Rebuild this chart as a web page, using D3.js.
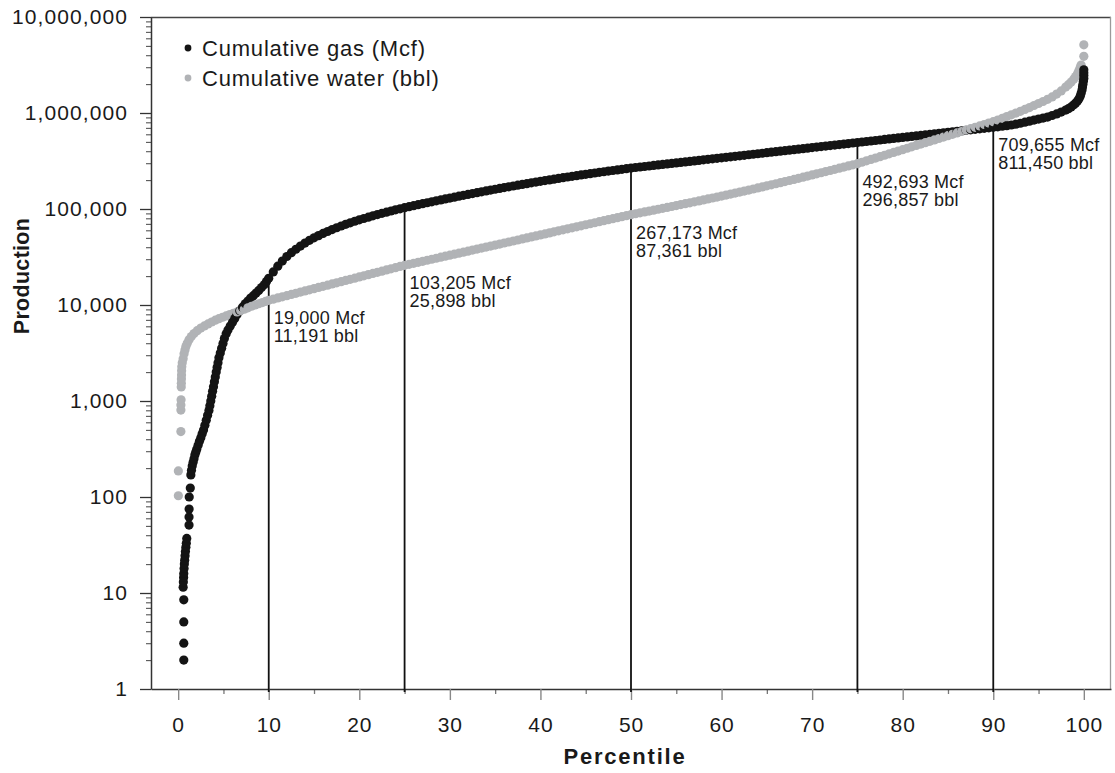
<!DOCTYPE html>
<html>
<head>
<meta charset="utf-8">
<script src="https://cdn.jsdelivr.net/npm/d3@7"></script>
<style>
  body { margin: 0; background: #fff; }
  svg { display: block; }
  text { font-family: "Liberation Sans", Arial, Helvetica, sans-serif; fill: #1a1a1a; }
</style>
</head>
<body>
<svg id="chart" width="1115" height="773"></svg>
<script>
// Cumulative gas (Mcf) per well, as [percentile, production]
const gasPoints = [
  [0.62,2],[0.62,3],[0.62,5],[0.62,8.5],
  [0.55,11.5],[0.57,13],[0.6,14.5],[0.62,16],[0.65,18],[0.68,20],[0.72,22],[0.76,24.5],[0.8,27],[0.85,30],[0.9,33],[0.95,37],
  [1.2,51],[1.2,62],[1.21,75],[1.22,100],[1.34,124],
  [1.4,170],[1.47,190],[1.55,210],[1.65,230],[1.75,250],[1.85,275],[1.95,295],[2.05,315],[2.2,345],[2.35,380],[2.5,415],[2.65,455],[2.8,500],[2.95,560],[3.1,630],[3.25,710],[3.4,795],[3.5,890],[3.6,1000],[3.7,1120],[3.8,1260],[3.9,1410],[4.0,1590],[4.1,1780],[4.2,2000],[4.3,2240],[4.4,2510],[4.5,2820],[4.65,3160],[4.8,3550],[4.95,3980],[5.1,4470],[5.3,5010],[5.5,5500],[5.75,6030],[6.0,6610],[6.25,7240],[6.5,7940],[6.8,8710],[7.1,9500],[7.4,10300],[7.7,11000],[8.0,11800],[8.3,12500],[8.6,13300],[8.9,14200],[9.2,15200],[9.5,16300],[9.75,17600],[10,19000],
  [10.5,22100],[11,25400],[11.5,28700],[12,32000],[12.5,35100],[13,38100],[13.5,41100],[14,44200],[14.5,47200],[15,50100],[15.5,52800],[16,55600],[16.5,58300],[17,61100],[17.5,63800],[18,66500],[18.5,69200],[19,71800],[19.5,74500],[20,77100],[20.5,79600],[21,82200],[21.5,84900],[22,87500],[22.5,90200],[23,92700],[23.5,95300],[24,98000],[24.5,100500],[25,103205],
  [25.5,105700],[26,108300],[26.5,110900],[27,113500],[27.5,116200],[28,118900],[28.5,121600],[29,124400],[29.5,127200],[30,130100],[30.5,132900],[31,135900],[31.5,138800],[32,141800],[32.5,144900],[33,148000],[33.5,151000],[34,154200],[34.5,157300],[35,160500],[35.5,163700],[36,167000],[36.5,170300],[37,173600],[37.5,177000],[38,180300],[38.5,183700],[39,187200],[39.5,190600],[40,194100],[40.5,197600],[41,201100],[41.5,204600],[42,208200],[42.5,211800],[43,215400],[43.5,219000],[44,222600],[44.5,226200],[45,229900],[45.5,233500],[46,237100],[46.5,240800],[47,244500],[47.5,248100],[48,251800],[48.5,255500],[49,259200],[49.5,262900],[50,267173],
  [50.5,270500],[51,273800],[51.5,277200],[52,280600],[52.5,284100],[53,287600],[53.5,291100],[54,294700],[54.5,298300],[55,302000],[55.5,305700],[56,309400],[56.5,313200],[57,317100],[57.5,320900],[58,324900],[58.5,328900],[59,332900],[59.5,337000],[60,341200],[60.5,345400],[61,349600],[61.5,353900],[62,358300],[62.5,362700],[63,367300],[63.5,371800],[64,376400],[64.5,381000],[65,385700],[65.5,390400],[66,395300],[66.5,400100],[67,405100],[67.5,410000],[68,415100],[68.5,420200],[69,425300],[69.5,430600],[70,436000],[70.5,441300],[71,446800],[71.5,452300],[72,457800],[72.5,463400],[73,469200],[73.5,475000],[74,480800],[74.5,486700],[75,492693],
  [75.5,498700],[76,504800],[76.5,511000],[77,517200],[77.5,523600],[78,530000],[78.5,536500],[79,543100],[79.5,549700],[80,556400],[80.5,563200],[81,570200],[81.5,577100],[82,584200],[82.5,591300],[83,598600],[83.5,605900],[84,613300],[84.5,620800],[85,628400],[85.5,636100],[86,643900],[86.5,651800],[87,659800],[87.5,667800],[88,675900],[88.5,684200],[89,692600],[89.5,701100],[90,709655],
  [90.5,718600],[91,727800],[91.5,738700],[92,749900],[92.5,765600],[93,781600],[93.5,801700],[94,822400],[94.5,843400],[95,865000],[95.5,886200],[96,907800],[96.5,941900],[97,977200],[97.5,1023000],[98,1072000],[98.3,1109000],[98.6,1156000],[98.9,1216000],[99.1,1271000],[99.3,1334000],[99.45,1396000],[99.6,1496000],[99.7,1603000],[99.8,1738000],[99.85,1862000],[99.9,1995000],[99.95,2138000],[100,2291000],[100,2455000],[100,2630000],[100,2818000]
];

// Cumulative water (bbl) per well, as [percentile, production]
const waterPoints = [
  [0.02,103],[0.02,187],[0.3,480],[0.3,805],[0.3,910],[0.32,1030],[0.34,1400],[0.35,1530],[0.36,1700],[0.37,1870],[0.38,2060],[0.4,2270],[0.45,2500],[0.55,2750],[0.65,3100],[0.75,3400],[0.85,3700],[1.0,4000],[1.2,4350],[1.45,4700],[1.75,5050],[2.1,5400],[2.5,5750],[2.9,6050],[3.3,6350],[3.7,6650],[4.1,6950],[4.5,7200],[4.9,7450],[5.3,7700],[5.7,7950],[6.1,8200],[6.5,8450],[6.9,8750],[7.3,9050],[7.7,9350],[8.1,9700],[8.5,10000],[8.9,10300],[9.3,10600],[9.65,10900],[10,11191],
  [10.5,11510],[11,11840],[11.5,12170],[12,12520],[12.5,12880],[13,13240],[13.5,13620],[14,14000],[14.5,14400],[15,14810],[15.5,15230],[16,15650],[16.5,16100],[17,16560],[17.5,17030],[18,17510],[18.5,18010],[19,18520],[19.5,19050],[20,19590],[20.5,20140],[21,20720],[21.5,21310],[22,21910],[22.5,22530],[23,23170],[23.5,23830],[24,24500],[24.5,25200],[25,25898],
  [25.5,26540],[26,27190],[26.5,27860],[27,28540],[27.5,29250],[28,29970],[28.5,30700],[29,31460],[29.5,32230],[30,33030],[30.5,33840],[31,34670],[31.5,35520],[32,36400],[32.5,37300],[33,38220],[33.5,39160],[34,40120],[34.5,41110],[35,42120],[35.5,43160],[36,44220],[36.5,45310],[37,46420],[37.5,47570],[38,48750],[38.5,49940],[39,51170],[39.5,52430],[40,53720],[40.5,55050],[41,56400],[41.5,57790],[42,59200],[42.5,60660],[43,62160],[43.5,63680],[44,65250],[44.5,66860],[45,68510],[45.5,70200],[46,71930],[46.5,73700],[47,75510],[47.5,77370],[48,79280],[48.5,81220],[49,83230],[49.5,85270],[50,87361],
  [50.5,89250],[51,91200],[51.5,93220],[52,95240],[52.5,97320],[53,99450],[53.5,101700],[54,103900],[54.5,106200],[55,108600],[55.5,111100],[56,113500],[56.5,116100],[57,118700],[57.5,121500],[58,124300],[58.5,127200],[59,130200],[59.5,133200],[60,136400],[60.5,139600],[61,143000],[61.5,146500],[62,150100],[62.5,153800],[63,157500],[63.5,161600],[64,165700],[64.5,169800],[65,174200],[65.5,178700],[66,183300],[66.5,188100],[67,193000],[67.5,198200],[68,203400],[68.5,208800],[69,214400],[69.5,220300],[70,226200],[70.5,232400],[71,238700],[71.5,245200],[72,251900],[72.5,258900],[73,266100],[73.5,273500],[74,281100],[74.5,288800],[75,296857],
  [75.5,306900],[76,317500],[76.5,328300],[77,339400],[77.5,351000],[78,363000],[78.5,375300],[79,388100],[79.5,401300],[80,415000],[80.5,429200],[81,443800],[81.5,459000],[82,474600],[82.5,490800],[83,507500],[83.5,524800],[84,542700],[84.5,561200],[85,580400],[85.5,600200],[86,620600],[86.5,641800],[87,663600],[87.5,686300],[88,709700],[88.5,733800],[89,758900],[89.5,784700],[90,811450],
  [90.5,845300],[91,881000],[91.5,918300],[92,957200],[92.5,997700],[93,1040000],[93.5,1089000],[94,1140000],[94.5,1197000],[95,1256000],[95.5,1318000],[96,1387000],[96.5,1472000],[97,1574000],[97.5,1698000],[98,1862000],[98.3,1972000],[98.6,2099000],[98.9,2265000],[99.1,2399000],[99.3,2570000],[99.45,2754000],[99.6,2985000],[99.7,3162000],[100,3890000],[100,5130000]
];

// Percentile markers with the gas and water values read at each
const markerPct   = [10, 25, 50, 75, 90];
const markerGas   = [19000, 103205, 267173, 492693, 709655];
const markerWater = [11191, 25898, 87361, 296857, 811450];

// Axis ticks
const xMajorTicks = [0, 10, 20, 30, 40, 50, 60, 70, 80, 90, 100];
const xMinorTicks = [5, 15, 25, 35, 45, 55, 65, 75, 85, 95];
const yMajorTicks = [1, 10, 100, 1000, 10000, 100000, 1000000, 10000000];

const legendLabels = ["Cumulative gas (Mcf)", "Cumulative water (bbl)"];
const xTitle = "Percentile";
const yTitle = "Production";

const GAS_COLOR = "#141414";
const WATER_COLOR = "#b1b3b6";

const svg = d3.select("#chart");
const plot = { left: 151, right: 1111, top: 17, bottom: 689 };

const x = d3.scaleLinear().domain([-3, 103]).range([plot.left, plot.right]);
const y = d3.scaleLog().domain([1, 1e7]).range([plot.bottom, plot.top]);

// minor log ticks 2..9 within each decade
const yMinorTicks = [];
yMajorTicks.slice(0, -1).forEach(d => { for (let k = 2; k <= 9; k++) yMinorTicks.push(d * k); });

// frame: top and right borders
svg.append("line")
  .attr("x1", plot.left).attr("x2", plot.right)
  .attr("y1", plot.top + 0.5).attr("y2", plot.top + 0.5)
  .attr("stroke", "#444").attr("stroke-width", 1.3);
svg.append("line")
  .attr("x1", plot.right - 0.5).attr("x2", plot.right - 0.5)
  .attr("y1", plot.top).attr("y2", plot.bottom)
  .attr("stroke", "#9a9a9a").attr("stroke-width", 1.3);

// y axis
const yMinorG = svg.append("g").attr("transform", `translate(${plot.left},0)`)
  .call(d3.axisLeft(y).tickValues(yMinorTicks).tickSize(5).tickSizeOuter(0).tickFormat(""));
yMinorG.select(".domain").remove();
yMinorG.selectAll(".tick line").attr("stroke", "#555").attr("stroke-width", 1.1);

const yAxisG = svg.append("g").attr("transform", `translate(${plot.left},0)`)
  .call(d3.axisLeft(y).tickValues(yMajorTicks).tickSize(11).tickSizeOuter(0)
    .tickPadding(12).tickFormat(d3.format(",")));
yAxisG.select(".domain").attr("stroke", "#333").attr("stroke-width", 1.5);
yAxisG.selectAll(".tick line").attr("stroke", "#333").attr("stroke-width", 1.3);
yAxisG.selectAll(".tick text")
  .attr("font-size", 21).attr("letter-spacing", 1.1)
  .attr("fill", "#1a1a1a").attr("font-family", null);

// x axis
const xMinorG = svg.append("g").attr("transform", `translate(0,${plot.bottom})`)
  .call(d3.axisBottom(x).tickValues(xMinorTicks).tickSize(5).tickSizeOuter(0).tickFormat(""));
xMinorG.select(".domain").remove();
xMinorG.selectAll(".tick line").attr("stroke", "#777").attr("stroke-width", 1.3);

const xAxisG = svg.append("g").attr("transform", `translate(0,${plot.bottom})`)
  .call(d3.axisBottom(x).tickValues(xMajorTicks).tickSize(11).tickSizeOuter(0)
    .tickPadding(17).tickFormat(d3.format("d")));
xAxisG.select(".domain").attr("stroke", "#333").attr("stroke-width", 1.5);
xAxisG.selectAll(".tick line").attr("stroke", "#888").attr("stroke-width", 1.4);
xAxisG.selectAll(".tick text")
  .attr("font-size", 21).attr("letter-spacing", 0.9)
  .attr("fill", "#1a1a1a").attr("font-family", null);

// axis titles
svg.append("text")
  .attr("x", 625).attr("y", 764)
  .attr("text-anchor", "middle")
  .attr("font-size", 22).attr("font-weight", "bold").attr("letter-spacing", 1.8)
  .text(xTitle);
svg.append("text")
  .attr("transform", "translate(29,276) rotate(-90)")
  .attr("text-anchor", "middle")
  .attr("font-size", 21.5).attr("font-weight", "bold").attr("letter-spacing", 0.3)
  .text(yTitle);

// percentile markers
const markers = markerPct.map((p, i) => ({ p, gas: markerGas[i], water: markerWater[i] }));
const mG = svg.append("g");
mG.selectAll("line").data(markers).join("line")
  .attr("x1", d => x(d.p)).attr("x2", d => x(d.p))
  .attr("y1", plot.bottom + 3)
  .attr("y2", d => y(Math.max(d.gas, d.water)))
  .attr("stroke", "#111").attr("stroke-width", 1.8);

// points, drawn in percentile order so the two series interleave
const points = gasPoints.map(d => ({ p: d[0], v: d[1], s: "gas" }))
  .concat(waterPoints.map(d => ({ p: d[0], v: d[1], s: "water" })))
  .sort((a, b) => a.p - b.p);
svg.append("g").selectAll("circle").data(points).join("circle")
  .attr("cx", d => x(d.p))
  .attr("cy", d => y(d.v))
  .attr("r", 4.6)
  .attr("fill", d => d.s === "gas" ? GAS_COLOR : WATER_COLOR);

// marker labels
const fmt = d3.format(",");
const lab = svg.append("g");
markers.forEach(d => {
  const base = y(Math.min(d.gas, d.water)) + 24;
  lab.append("text").attr("x", x(d.p) + 5).attr("y", base)
    .attr("font-size", 18).attr("letter-spacing", 0.2)
    .text(`${fmt(d.gas)} Mcf`);
  lab.append("text").attr("x", x(d.p) + 5).attr("y", base + 18)
    .attr("font-size", 18).attr("letter-spacing", 0.2)
    .text(`${fmt(d.water)} bbl`);
});

// legend
const legend = svg.append("g").attr("transform", "translate(188,48)");
[GAS_COLOR, WATER_COLOR].forEach((c, i) => {
  legend.append("circle").attr("cx", 0).attr("cy", i * 30).attr("r", 3.4).attr("fill", c);
  legend.append("text").attr("x", 14).attr("y", i * 30 + 8)
    .attr("font-size", 22).attr("letter-spacing", 0.8)
    .text(legendLabels[i]);
});
</script>
</body>
</html>
